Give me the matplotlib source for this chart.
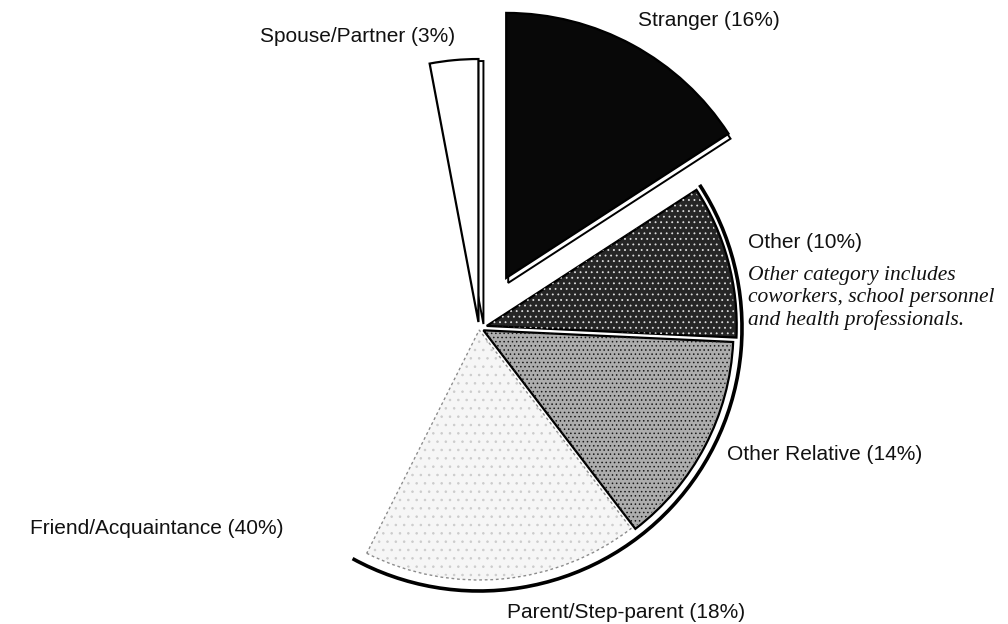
import matplotlib.pyplot as plt
import matplotlib.patches as mpatches

# who the offender was, share of cases (%)
categories = ['Stranger', 'Other', 'Other Relative', 'Parent/Step-parent',
              'Friend/Acquaintance', 'Spouse/Partner']
shares = [16, 10, 14, 18, 40, 3]
note_lines = ['Other category includes',
              'coworkers, school personnel',
              'and health professionals.']

plt.rcParams['font.family'] = ['Liberation Sans', 'DejaVu Sans']
plt.rcParams['hatch.linewidth'] = 0.6

fig = plt.figure(figsize=(10.08, 6.24), dpi=100)
ax = fig.add_axes([0, 0, 1, 1])

# pixel-like coordinates so the pie keeps a round shape
centre = (479, 296)
radius = 250
fills = ['#080808', '#262626', '#adadad', '#f6f6f6', 'white', 'white']
explode = [57, 8, 5, 2, 0, 6]

wedges, _ = ax.pie(shares, explode=explode, colors=fills, startangle=90,
                   counterclock=False, radius=radius, center=centre,
                   frame=False,
                   wedgeprops=dict(edgecolor='black', linewidth=1.6))

stranger, other, relative, parent, friend, spouse = wedges
stranger.set_radius(265)
spouse.set_radius(263)
friend.set_edgecolor('none')
parent.set_edgecolor('#8c8c8c')
parent.set_linewidth(1.0)
parent.set_linestyle((0, (2, 2)))

# thin "thickness" edge behind the pulled-out slices
for w, (dx, dy) in [(stranger, (2, -5)), (spouse, (5, -2))]:
    cx, cy = w.center
    back = mpatches.Wedge((cx + dx, cy + dy), w.r, w.theta1, w.theta2,
                          facecolor='white', edgecolor='black', lw=1.4,
                          zorder=w.get_zorder() - 0.5)
    ax.add_patch(back)

# speckled print texture
textures = [(other, '#dddddd', '...'),
            (relative, '#1a1a1a', '....'), (parent, '#cccccc', '..')]
for w, col, hatch in textures:
    ax.add_patch(mpatches.Wedge(w.center, w.r - 2, w.theta1, w.theta2,
                                facecolor='none', edgecolor=col, lw=0,
                                hatch=hatch, zorder=w.get_zorder() + 0.1))

# outer rim around the slices that stay in place
rim = mpatches.Arc(centre, 2 * 263, 2 * 263, theta1=parent.theta1 - 2,
                   theta2=other.theta2, color='black', lw=2.6)
ax.add_patch(rim)

label_kw = dict(fontsize=15, color='#111111', va='center')
ax.text(638, 604, f'{categories[0]} ({shares[0]}%)', ha='left', **label_kw)
ax.text(455, 587, f'{categories[5]} ({shares[5]}%)', ha='right', **label_kw)
ax.text(748, 381, f'{categories[1]} ({shares[1]}%)', ha='left', **label_kw)
ax.text(727, 169, f'{categories[2]} ({shares[2]}%)', ha='left', **label_kw)
ax.text(284, 96, f'{categories[4]} ({shares[4]}%)', ha='right', **label_kw)
ax.text(507, 12, f'{categories[3]} ({shares[3]}%)', ha='left', **label_kw)

ax.text(748, 358, '\n'.join(note_lines), ha='left', va='top',
        fontsize=15.5, style='italic', family=['Liberation Serif', 'DejaVu Serif'],
        linespacing=1.2, color='#111111')

ax.set_xlim(0, 1008)
ax.set_ylim(0, 624)
ax.set_aspect('equal')
ax.axis('off')

fig.savefig('out.png', dpi=100)
